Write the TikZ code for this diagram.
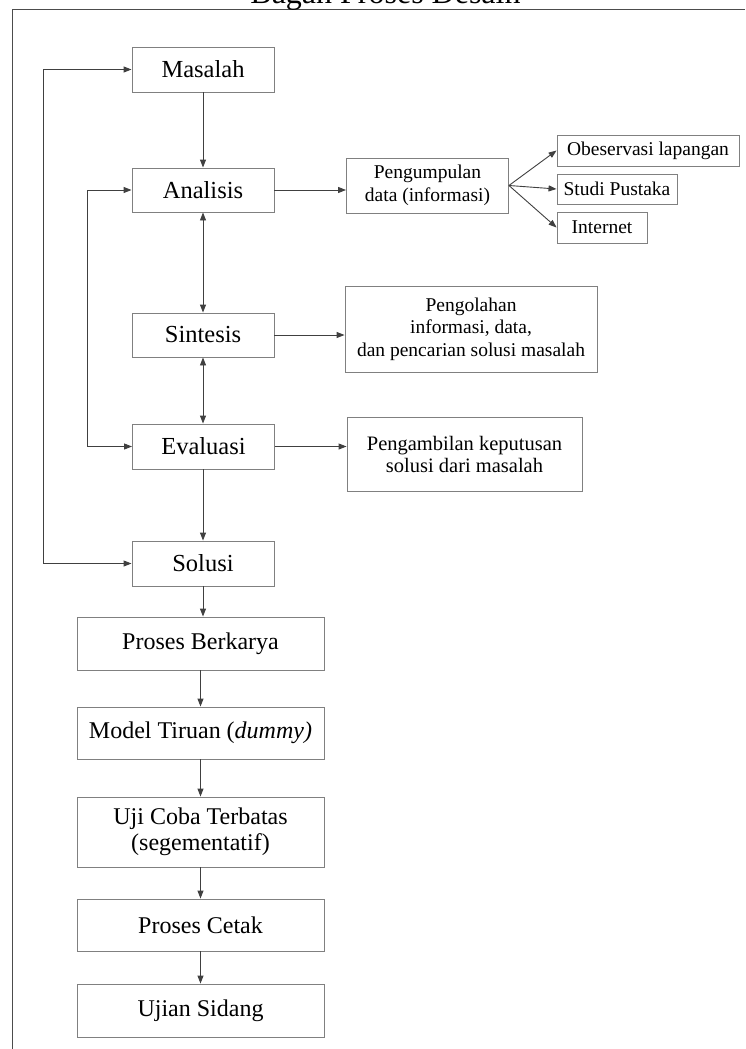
\documentclass[tikz,border=0pt]{standalone}
\usepackage{fontspec}
\setmainfont{Liberation Serif}
\usepackage{tikz}
\usepackage{xcolor}
\usetikzlibrary{arrows.meta}
\tikzset{
    main-box/.style = {draw=gray, line width=0.9pt, rectangle, inner sep=0pt, minimum width=142pt, minimum height=45pt, font=\fontsize{24.5}{28}\selectfont},
    side-box/.style = {draw=gray, line width=0.9pt, rectangle, inner sep=0pt, align=center, font=\fontsize{19.5}{22.5}\selectfont},
    step-box/.style = {draw=gray, line width=0.9pt, rectangle, inner sep=0pt, align=center, minimum width=247pt, minimum height=53pt, font=\fontsize{24}{26.5}\selectfont},
    flow-line/.style = {draw=black!75, line width=0.9pt, -{Triangle[length=8pt, width=6pt]}},
    flow-both/.style = {draw=black!75, line width=0.9pt, {Triangle[length=8pt, width=6pt]}-{Triangle[length=8pt, width=6pt]}},
}

\begin{document}
\begin{tikzpicture}[x=1pt, y=-1pt]
\useasboundingbox (0,0) rectangle (745,1049);
\draw[black!70, line width=1pt] (12.5,1049) -- (12.5,9.5) -- (745,9.5);
\node[anchor=base, inner sep=0pt, font=\fontsize{32}{36}\selectfont] (title) at (385.5,4) {Bagan Proses Desain};

\node [main-box] (masalah) at (203,69.5) {Masalah};
\node [main-box, minimum height=44pt] (analisis) at (203,190) {Analisis};
\node [main-box, minimum height=44pt] (sintesis) at (203,335) {Sintesis};
\node [main-box] (evaluasi) at (203.5,446.5) {Evaluasi};
\node [main-box] (solusi) at (203,563.5) {Solusi};

\node [side-box, minimum width=162pt, minimum height=55pt] (kumpul) at (427.5,185.5) {Pengumpulan\\data (informasi)};
\node [side-box, minimum width=182pt, minimum height=31pt] (observasi) at (648,150.5) {Obeservasi lapangan};
\node [side-box, minimum width=120pt, minimum height=30pt] (studi) at (617,189) {Studi Pustaka};
\node [side-box, minimum width=90pt, minimum height=31pt] (internet) at (602,227.5) {Internet};
\node [side-box, minimum width=252pt, minimum height=86pt] (olah) at (471,329) {Pengolahan\\informasi, data,\\dan pencarian solusi masalah};
\node [side-box, minimum width=235pt, minimum height=74pt, font=\fontsize{20.5}{22}\selectfont] (ambil) at (464.5,454) {Pengambilan keputusan\\solusi dari masalah};

\node [step-box] (berkarya) at (200.5,643.5) {Proses Berkarya};
\node [step-box, minimum height=52pt] (tiruan) at (200.5,733) {Model Tiruan (\textit{dummy)}};
\node [step-box, minimum height=70pt] (ujicoba) at (200.5,832) {Uji Coba Terbatas\\(segementatif)};
\node [step-box, minimum height=52pt] (cetak) at (200.5,925) {Proses Cetak};
\node [step-box] (sidang) at (200.5,1010.5) {Ujian Sidang};

\coordinate (outer) at (43,0);
\coordinate (inner) at (87.5,0);

\draw[flow-line] (masalah) -- (analisis);
\draw[flow-both] (analisis) -- (sintesis);
\draw[flow-both] (sintesis) -- (evaluasi.north -| sintesis);
\draw[flow-line] (evaluasi.south -| solusi) -- (solusi);
\draw[flow-both] (masalah.west) -- (masalah.west -| outer) |- (solusi.west);
\draw[flow-both] (analisis.west) -- (analisis.west -| inner) |- (evaluasi.west);

\draw[flow-line] (analisis.east) -- (kumpul.west |- analisis.east);
\draw[flow-line] (kumpul.east) -- (observasi.west);
\draw[flow-line] (kumpul.east) -- (studi.west);
\draw[flow-line] (kumpul.east) -- (internet.west);
\draw[flow-line] (sintesis.east) -- (olah.west |- sintesis.east);
\draw[flow-line] (evaluasi.east) -- (ambil.west |- evaluasi.east);

\draw[flow-line] (solusi.south) -- (solusi.south |- berkarya.north);
\draw[flow-line] (berkarya) -- (tiruan);
\draw[flow-line] (tiruan) -- (ujicoba);
\draw[flow-line] (ujicoba) -- (cetak);
\draw[flow-line] (cetak) -- (sidang);
\end{tikzpicture}
\end{document}
